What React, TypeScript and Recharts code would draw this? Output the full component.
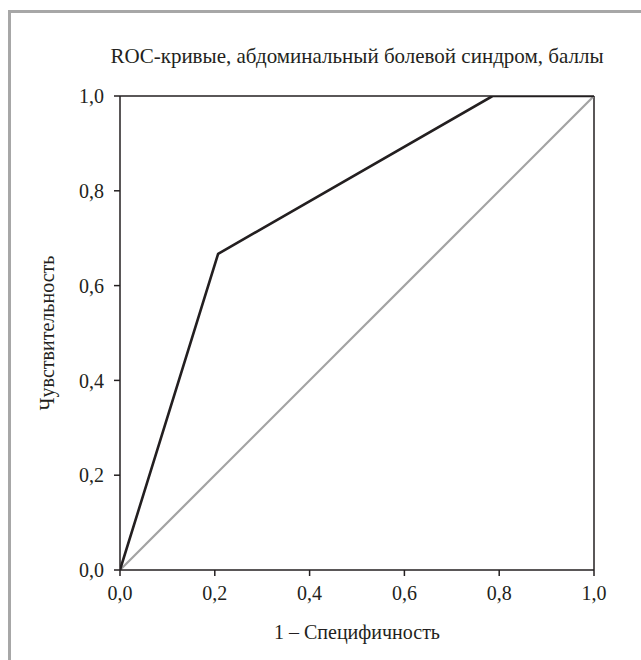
import React from 'react';
import { LineChart, Line, XAxis, YAxis, ReferenceLine } from 'recharts';

const xTicks = [0, 0.2, 0.4, 0.6, 0.8, 1.0];
const yTicks = [0, 0.2, 0.4, 0.6, 0.8, 1.0];
const rocFpr = [0, 0.207, 0.786, 1];
const rocTpr = [0, 0.667, 1, 1];
const refFpr = [0, 1];
const refTpr = [0, 1];

const title = 'ROC-кривые, абдоминальный болевой синдром, баллы';
const xLabel = '1 – Специфичность';
const yLabel = 'Чувствительность';

const rocData = rocFpr.map((x, i) => ({ x, y: rocTpr[i] }));
const refData = refFpr.map((x, i) => ({ x, y: refTpr[i] }));

const FONT = '"Liberation Serif", "Times New Roman", serif';
const INK = '#231f20';
const fmt = (v: number) => v.toFixed(1).replace('.', ',');

export default function App() {
  return (
    <div style={{ position: 'absolute', left: 0, top: 0, width: 641, height: 660, background: '#fff' }}>
      <div
        style={{
          position: 'absolute',
          left: 8,
          top: 10,
          width: 633,
          height: 650,
          borderLeft: '3px solid #a7a7a7',
          borderTop: '3px solid #a7a7a7',
          boxSizing: 'border-box',
        }}
      />
      <div
        style={{
          position: 'absolute',
          left: 0,
          top: 43,
          width: 714,
          textAlign: 'center',
          fontFamily: FONT,
          fontSize: 21,
          color: INK,
          lineHeight: '27px',
          whiteSpace: 'nowrap',
        }}
      >
        {title}
      </div>
      <LineChart
        width={641}
        height={660}
        margin={{ top: 96, right: 47, bottom: 0, left: 0 }}
        style={{ position: 'absolute', left: 0, top: 0 }}
      >
        <XAxis
          type="number"
          dataKey="x"
          domain={[0, 1]}
          ticks={xTicks}
          tickFormatter={fmt}
          height={90}
          tickSize={6}
          tickMargin={10}
          interval={0}
          axisLine={{ stroke: INK, strokeWidth: 1.5 }}
          tickLine={{ stroke: INK, strokeWidth: 1.5 }}
          tick={{ fill: INK, fontFamily: FONT, fontSize: 20 }}
          allowDataOverflow
          label={{
            content: ({ viewBox }: any) => (
              <text
                x={viewBox.x + viewBox.width / 2}
                y={viewBox.y + 69}
                textAnchor="middle"
                fontFamily={FONT}
                fontSize={20}
                fill={INK}
              >
                {xLabel}
              </text>
            ),
          }}
        />
        <YAxis
          type="number"
          dataKey="y"
          domain={[0, 1]}
          ticks={yTicks}
          tickFormatter={fmt}
          width={120}
          tickSize={6}
          tickMargin={10}
          interval={0}
          axisLine={{ stroke: INK, strokeWidth: 1.5 }}
          tickLine={{ stroke: INK, strokeWidth: 1.5 }}
          tick={{ fill: INK, fontFamily: FONT, fontSize: 20 }}
          allowDataOverflow
          label={{
            content: ({ viewBox }: any) => {
              const cx = 54;
              const cy = viewBox.y + viewBox.height / 2;
              return (
                <text
                  x={cx}
                  y={cy}
                  transform={`rotate(-90, ${cx}, ${cy})`}
                  textAnchor="middle"
                  fontFamily={FONT}
                  fontSize={20}
                  fill={INK}
                >
                  {yLabel}
                </text>
              );
            },
          }}
        />
        <ReferenceLine y={1} stroke={INK} strokeWidth={1.5} ifOverflow="visible" />
        <ReferenceLine x={1} stroke={INK} strokeWidth={1.5} ifOverflow="visible" />
        <Line
          data={refData}
          dataKey="y"
          stroke="#a3a3a3"
          strokeWidth={2.2}
          dot={false}
          activeDot={false}
          isAnimationActive={false}
        />
        <Line
          data={rocData}
          dataKey="y"
          stroke={INK}
          strokeWidth={2.6}
          dot={false}
          activeDot={false}
          isAnimationActive={false}
        />
      </LineChart>
    </div>
  );
}
